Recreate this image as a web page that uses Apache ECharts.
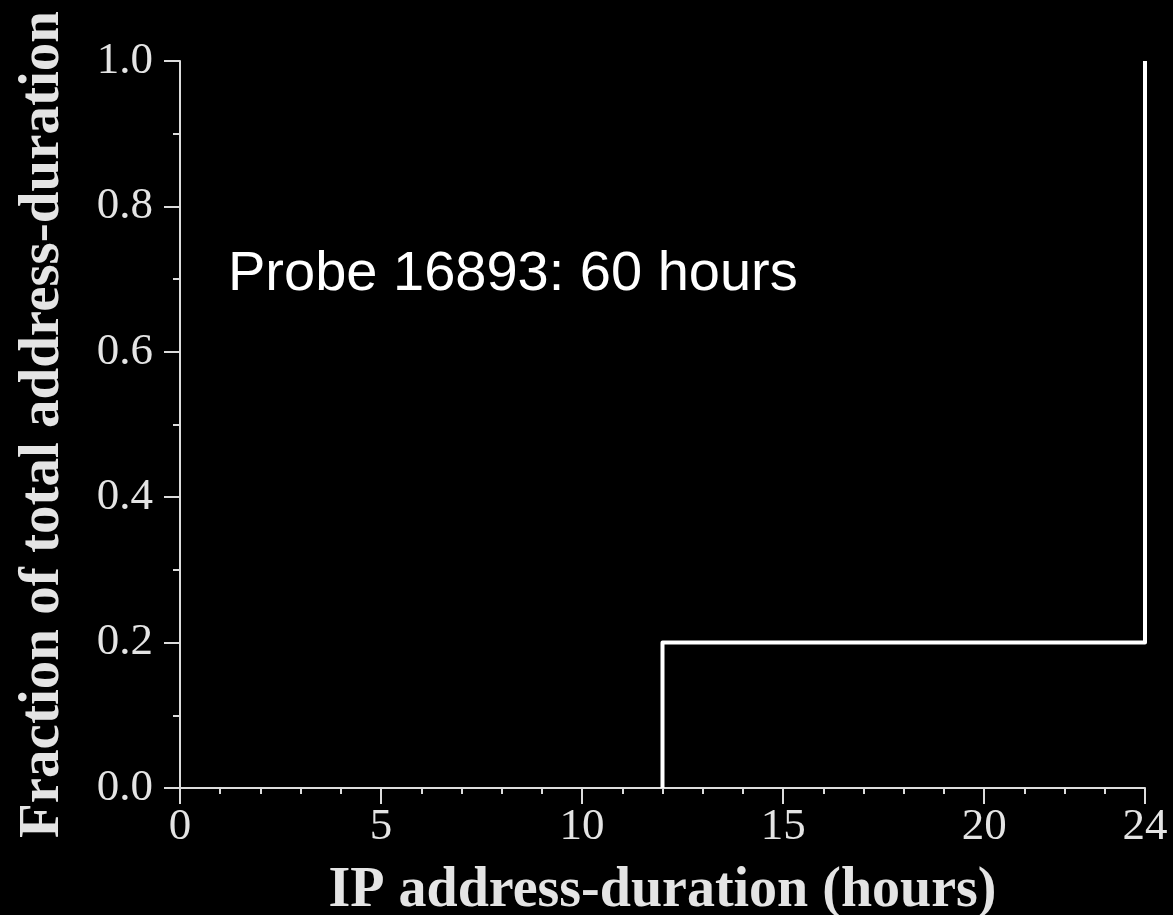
<!DOCTYPE html>
<html>
<head>
<meta charset="utf-8">
<script src="https://cdn.jsdelivr.net/npm/echarts@6/dist/echarts.min.js"></script>
<style>
html,body{margin:0;padding:0;background:#000;}
#chart{width:1173px;height:915px;}
</style>
</head>
<body>
<div id="chart"></div>
<script>
// CDF of IP address-duration (hours)
var durationHours = [12, 12, 24, 24];
var cumulativeFraction = [0, 0.2, 0.2, 1.0];
var xMajorTicks = [0, 5, 10, 15, 20, 24];
var annotationText = 'Probe 16893: 60 hours';
var xAxisTitle = 'IP address-duration (hours)';
var yAxisTitle = 'Fraction of total address-duration';

var seriesData = durationHours.map(function (h, i) { return [h, cumulativeFraction[i]]; });

var axisColor = '#dcdcdc';
var textColor = '#e4e4e4';
var serif = "'Liberation Serif', 'Times New Roman', serif";

var chart = echarts.init(document.getElementById('chart'), null, {renderer: 'canvas'});
chart.setOption({
  backgroundColor: '#000000',
  animation: false,
  grid: {left: 180, right: 28, top: 61, bottom: 127, containLabel: false, outerBoundsMode: 'none'},
  xAxis: [{
    type: 'value', min: 0, max: 24, interval: 1,
    axisLine: {show: true, lineStyle: {color: axisColor, width: 2}},
    axisTick: {show: true, length: 6, lineStyle: {color: axisColor, width: 2}},
    axisLabel: {show: false},
    splitLine: {show: false},
    name: xAxisTitle, nameLocation: 'middle', nameGap: 76,
    nameTextStyle: {fontFamily: serif, fontWeight: 'bold', fontSize: 56, color: textColor}
  }, {
    type: 'value', min: 0, max: 24, position: 'bottom',
    axisLine: {show: false},
    axisTick: {show: true, length: 16, customValues: xMajorTicks, lineStyle: {color: axisColor, width: 2}},
    axisLabel: {show: true, customValues: xMajorTicks, margin: 17, fontFamily: serif, fontSize: 45, color: textColor},
    splitLine: {show: false}
  }],
  yAxis: {
    type: 'value', min: 0, max: 1, interval: 0.2,
    axisLine: {show: true, lineStyle: {color: axisColor, width: 2}},
    axisTick: {show: true, length: 16, lineStyle: {color: axisColor, width: 2}},
    minorTick: {show: true, splitNumber: 2, length: 7, lineStyle: {color: axisColor, width: 2}},
    axisLabel: {margin: 27, fontFamily: serif, fontSize: 45, color: textColor,
      formatter: function (v) { return v.toFixed(1); }},
    splitLine: {show: false},
    minorSplitLine: {show: false},
    name: yAxisTitle, nameLocation: 'middle', nameGap: 108,
    nameTextStyle: {fontFamily: serif, fontWeight: 'bold', fontSize: 57, color: textColor}
  },
  series: [{
    type: 'line',
    xAxisIndex: 0,
    data: seriesData,
    showSymbol: false,
    symbol: 'none',
    clip: false,
    lineStyle: {color: '#ffffff', width: 4, join: 'round'},
    z: 5
  }],
  graphic: [{
    type: 'text',
    left: 228, top: 247,
    style: {
      text: annotationText,
      font: "56px 'Liberation Sans', Arial, sans-serif",
      fill: '#ffffff'
    }
  }]
});
</script>
</body>
</html>
